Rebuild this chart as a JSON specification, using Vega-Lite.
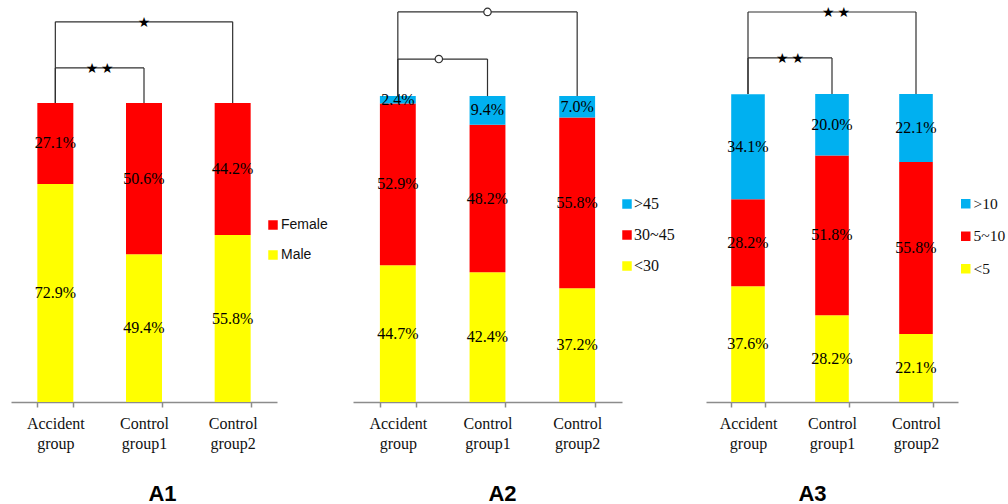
{
  "$schema": "https://vega.github.io/schema/vega-lite/v6.json",
  "background": "white",
  "padding": {"left": 11, "top": 0, "right": 0, "bottom": 0},
  "bounds": "flush",
  "spacing": 76,
  "config": {
    "view": {"stroke": null},
    "style": {"guide-label": {"font": "Liberation Serif", "fontSize": 16, "fill": "#111111"}},
    "axisX": {
      "labelAngle": 0,
      "labelFont": "Liberation Serif",
      "labelFontSize": 16,
      "labelColor": "#111111",
      "labelExpr": "split(datum.label, ' ')",
      "labelLineHeight": 20,
      "labelPadding": 8,
      "labelBaseline": "top",
      "domainColor": "#8c8c8c",
      "domainWidth": 1.5,
      "tickColor": "#8c8c8c",
      "tickWidth": 1.5,
      "tickSize": 5,
      "tickBand": "extent",
      "grid": false,
      "titleFont": "Liberation Sans",
      "titleFontSize": 22,
      "titleFontWeight": "bold",
      "titleColor": "#000000",
      "titleAlign": "center",
      "titleBaseline": "alphabetic",
      "titleY": 98
    },
    "legend": {
      "orient": "none",
      "title": null,
      "symbolType": "square",
      "symbolSize": 90,
      "symbolStrokeWidth": 0,
      "symbolOpacity": 1,
      "padding": 0,
      "labelOffset": -1,
      "labelFont": "Liberation Serif",
      "labelFontSize": 16,
      "labelColor": "#111111"
    }
  },
  "datasets": {
    "sex": [
      {"group": "Accident group", "cat": "Male", "p": 0.729},
      {"group": "Accident group", "cat": "Female", "p": 0.271},
      {"group": "Control group1", "cat": "Male", "p": 0.494},
      {"group": "Control group1", "cat": "Female", "p": 0.506},
      {"group": "Control group2", "cat": "Male", "p": 0.558},
      {"group": "Control group2", "cat": "Female", "p": 0.442}
    ],
    "age": [
      {"group": "Accident group", "cat": "<30", "p": 0.447},
      {"group": "Accident group", "cat": "30~45", "p": 0.529},
      {"group": "Accident group", "cat": ">45", "p": 0.024},
      {"group": "Control group1", "cat": "<30", "p": 0.424},
      {"group": "Control group1", "cat": "30~45", "p": 0.482},
      {"group": "Control group1", "cat": ">45", "p": 0.094},
      {"group": "Control group2", "cat": "<30", "p": 0.372},
      {"group": "Control group2", "cat": "30~45", "p": 0.558},
      {"group": "Control group2", "cat": ">45", "p": 0.070}
    ],
    "years": [
      {"group": "Accident group", "cat": "<5", "p": 0.376},
      {"group": "Accident group", "cat": "5~10", "p": 0.282},
      {"group": "Accident group", "cat": ">10", "p": 0.341},
      {"group": "Control group1", "cat": "<5", "p": 0.282},
      {"group": "Control group1", "cat": "5~10", "p": 0.518},
      {"group": "Control group1", "cat": ">10", "p": 0.200},
      {"group": "Control group2", "cat": "<5", "p": 0.221},
      {"group": "Control group2", "cat": "5~10", "p": 0.558},
      {"group": "Control group2", "cat": ">10", "p": 0.221}
    ],
    "pairs": [
      {"panel": "A1", "tier": "outer", "from": "Accident group", "to": "Control group2", "mid": "Control group1", "level": 1.271, "sig": "★"},
      {"panel": "A1", "tier": "inner", "from": "Accident group", "to": "Control group1", "mid": "Accident group", "level": 1.117, "sig": "★\u2009★"},
      {"panel": "A2", "tier": "outer", "from": "Accident group", "to": "Control group2", "mid": "Control group1", "level": 1.275, "sig": "o"},
      {"panel": "A2", "tier": "inner", "from": "Accident group", "to": "Control group1", "mid": "Accident group", "level": 1.121, "sig": "o"},
      {"panel": "A3", "tier": "outer", "from": "Accident group", "to": "Control group2", "mid": "Control group1", "level": 1.266, "sig": "★\u2009★"},
      {"panel": "A3", "tier": "inner", "from": "Accident group", "to": "Control group1", "mid": "Accident group", "level": 1.117, "sig": "★\u2009★"}
    ]
  },
  "hconcat": [
    {
      "width": 266,
      "height": 402,
      "layer": [
        {
          "data": {"name": "sex"},
          "transform": [{"calculate": "indexof(['Female', 'Male'], datum.cat)", "as": "rank"}],
          "mark": {"type": "bar"},
          "encoding": {
            "x": {"field": "group", "type": "nominal", "scale": {"paddingInner": 0.594, "paddingOuter": 0.297}, "axis": {"title": "A1", "titleX": 151}},
            "y": {"field": "p", "type": "quantitative", "stack": "zero", "scale": {"domain": [0, 1.344], "nice": false, "zero": true}, "axis": null},
            "color": {"field": "cat", "type": "nominal", "sort": ["Female", "Male"], "scale": {"domain": ["Female", "Male"], "range": ["#FF0000", "#FFFF00"]},
              "legend": {"legendX": 255, "legendY": 218, "labelFont": "Liberation Sans", "labelFontSize": 14, "labelOffset": 1, "rowPadding": 16,
                "encode": {"labels": {"update": {"font": {"value": "Liberation Sans"}, "fontSize": {"value": 14}}}}}},
            "order": {"field": "rank", "type": "quantitative", "sort": "descending"}
          }
        },
        {
          "data": {"name": "sex"},
          "transform": [{"calculate": "indexof(['Female', 'Male'], datum.cat)", "as": "rank"}],
          "mark": {"type": "text", "font": "Liberation Serif", "fontSize": 16, "baseline": "middle", "color": "#000000"},
          "encoding": {
            "x": {"field": "group", "type": "nominal"},
            "y": {"field": "p", "type": "quantitative", "stack": "zero", "bandPosition": 0.5},
            "detail": {"field": "cat", "type": "nominal"},
            "order": {"field": "rank", "type": "quantitative", "sort": "descending"},
            "text": {"field": "p", "type": "quantitative", "format": ".1%"}
          }
        },
        {
          "data": {"name": "pairs"},
          "transform": [{"filter": "datum.panel === 'A1'"}],
          "layer": [
            {"mark": {"type": "rule", "color": "#303030", "strokeWidth": 1.2},
             "encoding": {"x": {"field": "from", "type": "nominal"}, "x2": {"field": "to"}, "y": {"field": "level", "type": "quantitative"}}},
            {"mark": {"type": "rule", "color": "#303030", "strokeWidth": 1.2},
             "encoding": {"x": {"field": "from", "type": "nominal"}, "y": {"field": "level", "type": "quantitative"}, "y2": {"datum": 1}}},
            {"mark": {"type": "rule", "color": "#303030", "strokeWidth": 1.2},
             "encoding": {"x": {"field": "to", "type": "nominal"}, "y": {"field": "level", "type": "quantitative"}, "y2": {"datum": 1}}},
            {"transform": [{"filter": "datum.tier === 'outer'"}],
             "mark": {"type": "text", "font": "DejaVu Sans", "fontSize": 14, "baseline": "middle", "dy": 1, "color": "#000000"},
             "encoding": {"x": {"field": "mid", "type": "nominal"}, "y": {"field": "level", "type": "quantitative"}, "text": {"field": "sig"}}},
            {"transform": [{"filter": "datum.tier === 'inner'"}],
             "mark": {"type": "text", "font": "DejaVu Sans", "fontSize": 14, "baseline": "middle", "dy": 1, "dx": 44.3, "color": "#000000"},
             "encoding": {"x": {"field": "mid", "type": "nominal"}, "y": {"field": "level", "type": "quantitative"}, "text": {"field": "sig"}}}
          ]
        }
      ]
    },
    {
      "spacing": 84,
      "bounds": "flush",
      "hconcat": [
        {
          "width": 269,
          "height": 402,
          "layer": [
            {
              "data": {"name": "age"},
              "transform": [{"calculate": "indexof(['>45', '30~45', '<30'], datum.cat)", "as": "rank"}],
              "mark": {"type": "bar"},
              "encoding": {
                "x": {"field": "group", "type": "nominal", "scale": {"paddingInner": 0.6, "paddingOuter": 0.3}, "axis": {"title": "A2", "titleX": 149}},
                "y": {"field": "p", "type": "quantitative", "stack": "zero", "scale": {"domain": [0, 1.314], "nice": false, "zero": true}, "axis": null},
                "color": {"field": "cat", "type": "nominal", "sort": [">45", "30~45", "<30"], "scale": {"domain": [">45", "30~45", "<30"], "range": ["#00B0F0", "#FF0000", "#FFFF00"]},
                  "legend": {"legendX": 266, "legendY": 196, "labelFont": "Liberation Serif", "labelFontSize": 16, "rowPadding": 15,
                    "encode": {"labels": {"update": {"font": {"value": "Liberation Serif"}, "fontSize": {"value": 16}}}}}},
                "order": {"field": "rank", "type": "quantitative", "sort": "descending"}
              }
            },
            {
              "data": {"name": "age"},
              "transform": [{"calculate": "indexof(['>45', '30~45', '<30'], datum.cat)", "as": "rank"}],
              "mark": {"type": "text", "font": "Liberation Serif", "fontSize": 16, "baseline": "middle", "color": "#000000"},
              "encoding": {
                "x": {"field": "group", "type": "nominal"},
                "y": {"field": "p", "type": "quantitative", "stack": "zero", "bandPosition": 0.5},
                "detail": {"field": "cat", "type": "nominal"},
                "order": {"field": "rank", "type": "quantitative", "sort": "descending"},
                "text": {"field": "p", "type": "quantitative", "format": ".1%"}
              }
            },
            {
              "data": {"name": "pairs"},
              "transform": [{"filter": "datum.panel === 'A2'"}],
              "layer": [
                {"mark": {"type": "rule", "color": "#303030", "strokeWidth": 1.2},
                 "encoding": {"x": {"field": "from", "type": "nominal"}, "x2": {"field": "to"}, "y": {"field": "level", "type": "quantitative"}}},
                {"mark": {"type": "rule", "color": "#303030", "strokeWidth": 1.2},
                 "encoding": {"x": {"field": "from", "type": "nominal"}, "y": {"field": "level", "type": "quantitative"}, "y2": {"datum": 1}}},
                {"mark": {"type": "rule", "color": "#303030", "strokeWidth": 1.2},
                 "encoding": {"x": {"field": "to", "type": "nominal"}, "y": {"field": "level", "type": "quantitative"}, "y2": {"datum": 1}}},
                {"transform": [{"filter": "datum.tier === 'outer'"}],
                 "mark": {"type": "point", "shape": "circle", "size": 55, "filled": true, "fill": "#FFFFFF", "stroke": "#303030", "strokeWidth": 1.2, "opacity": 1},
                 "encoding": {"x": {"field": "mid", "type": "nominal"}, "y": {"field": "level", "type": "quantitative"}}},
                {"transform": [{"filter": "datum.tier === 'inner'"}],
                 "mark": {"type": "point", "shape": "circle", "size": 55, "filled": true, "fill": "#FFFFFF", "stroke": "#303030", "strokeWidth": 1.2, "opacity": 1, "xOffset": 41},
                 "encoding": {"x": {"field": "mid", "type": "nominal"}, "y": {"field": "level", "type": "quantitative"}}}
              ]
            }
          ]
        },
        {
          "width": 252,
          "height": 402,
          "layer": [
            {
              "data": {"name": "years"},
              "transform": [{"calculate": "indexof(['>10', '5~10', '<5'], datum.cat)", "as": "rank"}],
              "mark": {"type": "bar"},
              "encoding": {
                "x": {"field": "group", "type": "nominal", "scale": {"paddingInner": 0.6, "paddingOuter": 0.3}, "axis": {"title": "A3", "titleX": 106}},
                "y": {"field": "p", "type": "quantitative", "stack": "zero", "scale": {"domain": [0, 1.305], "nice": false, "zero": true}, "axis": null},
                "color": {"field": "cat", "type": "nominal", "sort": [">10", "5~10", "<5"], "scale": {"domain": [">10", "5~10", "<5"], "range": ["#00B0F0", "#FF0000", "#FFFF00"]},
                  "legend": {"legendX": 252, "legendY": 196, "labelFont": "Liberation Serif", "labelFontSize": 15.5, "labelOffset": 0, "rowPadding": 15.5,
                    "encode": {"labels": {"update": {"font": {"value": "Liberation Serif"}, "fontSize": {"value": 15.5}}}}}},
                "order": {"field": "rank", "type": "quantitative", "sort": "descending"}
              }
            },
            {
              "data": {"name": "years"},
              "transform": [{"calculate": "indexof(['>10', '5~10', '<5'], datum.cat)", "as": "rank"}],
              "mark": {"type": "text", "font": "Liberation Serif", "fontSize": 16, "baseline": "middle", "color": "#000000"},
              "encoding": {
                "x": {"field": "group", "type": "nominal"},
                "y": {"field": "p", "type": "quantitative", "stack": "zero", "bandPosition": 0.5},
                "detail": {"field": "cat", "type": "nominal"},
                "order": {"field": "rank", "type": "quantitative", "sort": "descending"},
                "text": {"field": "p", "type": "quantitative", "format": ".1%"}
              }
            },
            {
              "data": {"name": "pairs"},
              "transform": [{"filter": "datum.panel === 'A3'"}],
              "layer": [
                {"mark": {"type": "rule", "color": "#303030", "strokeWidth": 1.2},
                 "encoding": {"x": {"field": "from", "type": "nominal"}, "x2": {"field": "to"}, "y": {"field": "level", "type": "quantitative"}}},
                {"mark": {"type": "rule", "color": "#303030", "strokeWidth": 1.2},
                 "encoding": {"x": {"field": "from", "type": "nominal"}, "y": {"field": "level", "type": "quantitative"}, "y2": {"datum": 1}}},
                {"mark": {"type": "rule", "color": "#303030", "strokeWidth": 1.2},
                 "encoding": {"x": {"field": "to", "type": "nominal"}, "y": {"field": "level", "type": "quantitative"}, "y2": {"datum": 1}}},
                {"transform": [{"filter": "datum.tier === 'outer'"}],
                 "mark": {"type": "text", "font": "DejaVu Sans", "fontSize": 14, "baseline": "middle", "dy": 1, "dx": 4, "color": "#000000"},
                 "encoding": {"x": {"field": "mid", "type": "nominal"}, "y": {"field": "level", "type": "quantitative"}, "text": {"field": "sig"}}},
                {"transform": [{"filter": "datum.tier === 'inner'"}],
                 "mark": {"type": "text", "font": "DejaVu Sans", "fontSize": 14, "baseline": "middle", "dy": 1, "dx": 42, "color": "#000000"},
                 "encoding": {"x": {"field": "mid", "type": "nominal"}, "y": {"field": "level", "type": "quantitative"}, "text": {"field": "sig"}}}
              ]
            }
          ]
        }
      ],
      "resolve": {"scale": {"color": "independent"}}
    }
  ],
  "resolve": {"scale": {"color": "independent"}}
}
